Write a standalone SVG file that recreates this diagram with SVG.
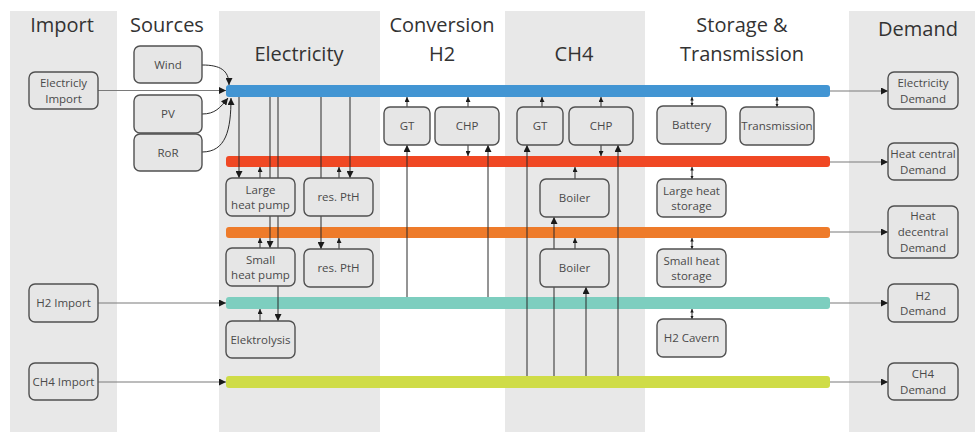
<svg xmlns="http://www.w3.org/2000/svg" width="975" height="432" viewBox="0 0 975 432">
<style>
.col{fill:#e8e8e8}
.hd{font-family:"Open Sans","Liberation Sans",sans-serif;font-size:20px;fill:#333;text-anchor:middle}
.nd rect{fill:#e6e6e6;stroke:#505050;stroke-width:1.4}
.nd text{font-family:"Open Sans","Liberation Sans",sans-serif;font-size:11.5px;fill:#4a4a4a;text-anchor:middle}
.ln{fill:none;stroke:#2a2a2a;stroke-width:1}
.gl{fill:none;stroke:#7a7a7a;stroke-width:1.2}
.big{marker-end:url(#ab)}
.sm{marker-end:url(#as)}
.db{marker-end:url(#ad);marker-start:url(#ad)}
</style>
<defs>
<marker id="ab" viewBox="0 0 10 10" refX="10" refY="5" markerWidth="7" markerHeight="7" markerUnits="userSpaceOnUse" orient="auto"><path d="M0,0L10,5L0,10z" fill="#1a1a1a"/></marker>
<marker id="as" viewBox="0 0 10 10" refX="10" refY="5" markerWidth="5" markerHeight="5" markerUnits="userSpaceOnUse" orient="auto"><path d="M0,0L10,5L0,10z" fill="#1a1a1a"/></marker>
<marker id="ad" viewBox="0 0 10 10" refX="10" refY="5" markerWidth="3.5" markerHeight="3.5" markerUnits="userSpaceOnUse" orient="auto-start-reverse"><path d="M0,0L10,5L0,10z" fill="#1a1a1a"/></marker>
</defs>
<rect width="975" height="432" fill="#fff"/>
<g id="columns">
<rect class="col" x="10" y="11" width="107" height="421"/>
<rect class="col" x="219" y="11" width="161" height="421"/>
<rect class="col" x="505" y="11" width="140" height="421"/>
<rect class="col" x="849" y="11" width="126" height="421"/>
</g>
<g id="headers">
<text class="hd" x="62" y="32">Import</text>
<text class="hd" x="167" y="32">Sources</text>
<text class="hd" x="299" y="61">Electricity</text>
<text class="hd" x="442" y="32">Conversion</text>
<text class="hd" x="442" y="61">H2</text>
<text class="hd" x="574" y="61">CH4</text>
<text class="hd" x="742" y="32">Storage &amp;</text>
<text class="hd" x="742" y="61">Transmission</text>
<text class="hd" x="918" y="36">Demand</text>
</g>
<g id="buses">
<rect id="bus-electricity" x="226" y="85" width="604" height="12" rx="3" fill="#4295d3"/>
<rect id="bus-heat-central" x="226" y="156" width="604" height="11" rx="3" fill="#f04824"/>
<rect id="bus-heat-decentral" x="226" y="227" width="604" height="11" rx="3" fill="#ee7b2a"/>
<rect id="bus-h2" x="226" y="297" width="604" height="12" rx="3" fill="#7dcebf"/>
<rect id="bus-ch4" x="226" y="376" width="604" height="12" rx="3" fill="#cfdc47"/>
</g>
<g id="connectors">
<path class="gl big" d="M98,90.5H226"/>
<path class="gl big" d="M98,303H226"/>
<path class="gl big" d="M98,382H226"/>
<path class="gl big" d="M830,91H888"/>
<path class="gl big" d="M830,162H888"/>
<path class="gl big" d="M830,232H888"/>
<path class="gl big" d="M830,303H888"/>
<path class="gl big" d="M830,382H888"/>
<path class="ln big" d="M202,65C220,65 229,70 229,85"/>
<path class="ln big" d="M202,114C215,114 220,108 228,98"/>
<path class="ln big" d="M202,152C226,152 231,130 231,98"/>
<path class="ln big" d="M239,97V178"/>
<path class="ln sm" d="M260,178V167"/>
<path class="ln big" d="M270,97V248"/>
<path class="ln big" d="M278,97V321"/>
<path class="ln sm" d="M260,248V238"/>
<path class="ln sm" d="M260,321V309"/>
<path class="ln big" d="M321,97V249"/>
<path class="ln big" d="M350,97V178"/>
<path class="ln sm" d="M339,178V167"/>
<path class="ln sm" d="M339,249V238"/>
<path class="ln sm" d="M407,107V97"/>
<path class="ln big" d="M407,297V145"/>
<path class="ln sm" d="M468,107V97"/>
<path class="ln sm" d="M468,145V156"/>
<path class="ln big" d="M488,297V145"/>
<path class="ln sm" d="M542,107V97"/>
<path class="ln big" d="M527,376V145"/>
<path class="ln sm" d="M601,107V97"/>
<path class="ln sm" d="M601,145V156"/>
<path class="ln big" d="M618,376V145"/>
<path class="ln sm" d="M575,179V167"/>
<path class="ln big" d="M554,376V217"/>
<path class="ln sm" d="M575,249V238"/>
<path class="ln big" d="M586,376V287"/>
<path class="ln db" d="M692,97V106"/>
<path class="ln db" d="M777,97V107"/>
<path class="ln db" d="M692,167V179"/>
<path class="ln db" d="M692,238V249"/>
<path class="ln db" d="M692,309V319"/>
</g>
<g id="elec-import" class="nd"><rect x="29" y="72" width="69" height="37" rx="6"/><text x="63.5" y="87">Electricly</text><text x="63.5" y="102.5">Import</text></g>
<g id="wind" class="nd"><rect x="134" y="46" width="68" height="37" rx="6"/><text x="168" y="68.5">Wind</text></g>
<g id="pv" class="nd"><rect x="134" y="95" width="68" height="38" rx="6"/><text x="168" y="118">PV</text></g>
<g id="ror" class="nd"><rect x="134" y="134" width="68" height="37" rx="6"/><text x="168" y="156.5">RoR</text></g>
<g id="h2-import" class="nd"><rect x="29" y="284" width="69" height="38" rx="6"/><text x="63.5" y="307">H2 Import</text></g>
<g id="ch4-import" class="nd"><rect x="29" y="363" width="69" height="37" rx="6"/><text x="63.5" y="385.5">CH4 Import</text></g>
<g id="large-heat-pump" class="nd"><rect x="226" y="178" width="69" height="38" rx="6"/><text x="260.5" y="193.5">Large</text><text x="260.5" y="209">heat pump</text></g>
<g id="res-pth-central" class="nd"><rect x="304" y="178" width="69" height="38" rx="6"/><text x="338.5" y="201">res. PtH</text></g>
<g id="small-heat-pump" class="nd"><rect x="226" y="248" width="69" height="38" rx="6"/><text x="260.5" y="263.5">Small</text><text x="260.5" y="279">heat pump</text></g>
<g id="res-pth-decentral" class="nd"><rect x="304" y="249" width="69" height="38" rx="6"/><text x="338.5" y="272">res. PtH</text></g>
<g id="elektrolysis" class="nd"><rect x="226" y="321" width="69" height="37" rx="6"/><text x="260.5" y="343.5">Elektrolysis</text></g>
<g id="gt-h2" class="nd"><rect x="384" y="107" width="46" height="38" rx="6"/><text x="407" y="130">GT</text></g>
<g id="chp-h2" class="nd"><rect x="435" y="107" width="64" height="38" rx="6"/><text x="467" y="130">CHP</text></g>
<g id="gt-ch4" class="nd"><rect x="517" y="107" width="46" height="38" rx="6"/><text x="540" y="130">GT</text></g>
<g id="chp-ch4" class="nd"><rect x="569" y="107" width="64" height="38" rx="6"/><text x="601" y="130">CHP</text></g>
<g id="boiler-central" class="nd"><rect x="540" y="179" width="69" height="38" rx="6"/><text x="574.5" y="202">Boiler</text></g>
<g id="boiler-decentral" class="nd"><rect x="540" y="249" width="69" height="38" rx="6"/><text x="574.5" y="272">Boiler</text></g>
<g id="battery" class="nd"><rect x="657" y="106" width="69" height="38" rx="6"/><text x="691.5" y="129">Battery</text></g>
<g id="transmission" class="nd"><rect x="740" y="107" width="74" height="38" rx="6"/><text x="777" y="130">Transmission</text></g>
<g id="large-heat-storage" class="nd"><rect x="657" y="179" width="69" height="38" rx="6"/><text x="691.5" y="194.5">Large heat</text><text x="691.5" y="210">storage</text></g>
<g id="small-heat-storage" class="nd"><rect x="657" y="249" width="69" height="38" rx="6"/><text x="691.5" y="264.5">Small heat</text><text x="691.5" y="280">storage</text></g>
<g id="h2-cavern" class="nd"><rect x="657" y="319" width="69" height="38" rx="6"/><text x="691.5" y="342">H2 Cavern</text></g>
<g id="electricity-demand" class="nd"><rect x="888" y="72" width="70" height="37" rx="6"/><text x="923" y="87">Electricity</text><text x="923" y="102.5">Demand</text></g>
<g id="heat-central-demand" class="nd"><rect x="888" y="143" width="70" height="37" rx="6"/><text x="923" y="158">Heat central</text><text x="923" y="173.5">Demand</text></g>
<g id="heat-decentral-demand" class="nd"><rect x="888" y="206" width="70" height="52" rx="6"/><text x="923" y="220">Heat</text><text x="923" y="236">decentral</text><text x="923" y="252">Demand</text></g>
<g id="h2-demand" class="nd"><rect x="888" y="284" width="70" height="38" rx="6"/><text x="923" y="299.5">H2</text><text x="923" y="315">Demand</text></g>
<g id="ch4-demand" class="nd"><rect x="888" y="363" width="70" height="37" rx="6"/><text x="923" y="378">CH4</text><text x="923" y="393.5">Demand</text></g>
</svg>
